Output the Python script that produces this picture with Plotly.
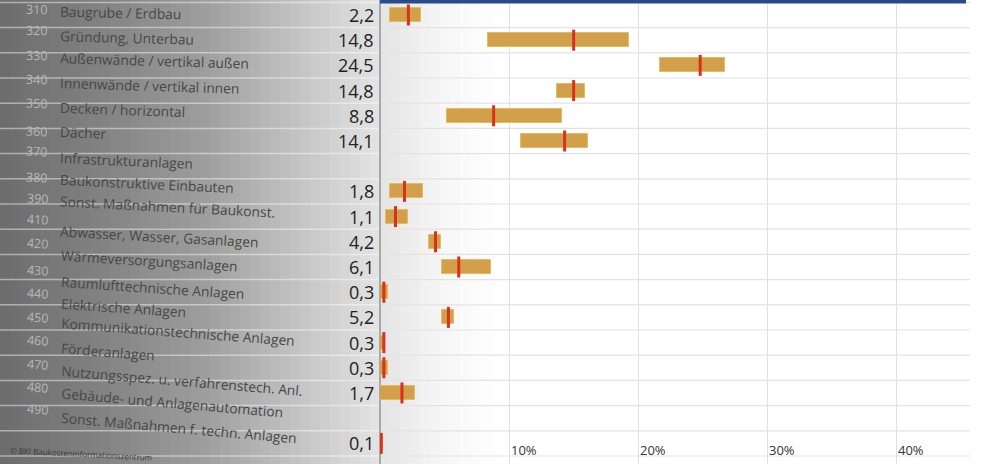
import plotly.graph_objects as go

codes = ["310", "320", "330", "340", "350", "360", "370", "380", "390",
         "410", "420", "430", "440", "450", "460", "470", "480", "490"]
names = ["Baugrube / Erdbau", "Gründung, Unterbau", "Außenwände / vertikal außen",
         "Innenwände / vertikal innen", "Decken / horizontal", "Dächer",
         "Infrastrukturanlagen", "Baukonstruktive Einbauten",
         "Sonst. Maßnahmen für Baukonst.", "Abwasser, Wasser, Gasanlagen",
         "Wärmeversorgungsanlagen", "Raumlufttechnische Anlagen",
         "Elektrische Anlagen", "Kommunikationstechnische Anlagen",
         "Förderanlagen", "Nutzungsspez. u. verfahrenstech. Anl.",
         "Gebäude- und Anlagenautomation", "Sonst. Maßnahmen f. techn. Anlagen"]
values = [2.2, 14.8, 24.5, 14.8, 8.8, 14.1, None, 1.8, 1.1,
          4.2, 6.1, 0.3, 5.2, 0.3, 0.3, 1.7, None, 0.1]
low = [0.8, 8.4, 21.7, 13.7, 5.2, 10.9, None, 0.8, 0.5,
       3.8, 4.8, 0.0, 4.8, 0.0, 0.0, 0.0, None, 0.0]
high = [3.2, 19.3, 26.7, 15.9, 14.1, 16.1, None, 3.3, 2.2,
        4.7, 8.6, 0.6, 5.7, 0.4, 0.6, 2.7, None, 0.2]
median = [2.2, 15.0, 24.8, 15.0, 8.8, 14.3, None, 1.9, 1.2,
          4.3, 6.1, 0.3, 5.3, 0.3, 0.3, 1.7, None, 0.1]
xticks = [10, 20, 30, 40]

W, H = 982, 464
ML, MR, MT, MB = 380, 12, 0, 0
PW = W - ML - MR
PH = H - MT - MB
ROW0, ROWH = 15, 25.2   # first row centre (px) and row pitch

def px_to_paper_x(p):
    return (p - ML) / PW

n = len(codes)
rows = list(range(n))
y_top = -ROW0 / ROWH
y_bot = (PH - ROW0) / ROWH

# scan-warp offsets (style): lift in px and tilt in degrees
label_lift = [3, 3, 5, 5, 6, 9, 6, 8, 10, 5, 7, 5, 10, 11, 16, 13, 16, 16]
code_lift = [6, 10, 10, 11, 12, 10, 15, 14, 18, 22, 24, 22, 24, 25, 27, 29, 31, 34]
label_tilt = [1.2, 1.4, 1.6, 1.8, 2.0, 2.3, 2.5, 2.7, 3.0, 3.2, 3.5, 3.8, 4.0, 4.3, 4.5, 4.7, 4.9, 5.0]

bar_y = [r for r, l in zip(rows, low) if l is not None]
bar_base = [l for l in low if l is not None]
bar_len = [h - l for l, h in zip(low, high) if l is not None]
med_y = [r for r, m in zip(rows, median) if m is not None]
med_x = [m for m in median if m is not None]

fig = go.Figure()
fig.add_trace(go.Bar(
    y=bar_y, x=bar_len, base=bar_base, orientation="h", width=0.56,
    marker=dict(color="#d2a04a", line=dict(color="#e2bb62", width=1)),
    hoverinfo="skip", showlegend=False))
fig.add_trace(go.Scatter(
    y=med_y, x=med_x, mode="markers",
    marker=dict(symbol="line-ns", size=15, line=dict(color="#d8321e", width=3)),
    hoverinfo="skip", showlegend=False))

shapes = []
# scan shading gradient (style only)
anchors = [(0, 108), (100, 130), (200, 156), (300, 196), (380, 228), (440, 246), (500, 255)]
def gray_at(p):
    for (p0, g0), (p1, g1) in zip(anchors[:-1], anchors[1:]):
        if p0 <= p <= p1:
            return g0 + (g1 - g0) * (p - p0) / (p1 - p0)
    return 255
step = 10
for p in range(0, 500, step):
    g = int(round(gray_at(p + step / 2)))
    shapes.append(dict(type="rect", xref="paper", yref="paper",
                       x0=px_to_paper_x(p), x1=px_to_paper_x(p + step + 1),
                       y0=-0.01, y1=1.01, line=dict(width=0),
                       fillcolor=f"rgb({g},{g},{g})", layer="below"))
# row separators
for i in range(n + 1):
    yv = i - 0.5
    shapes.append(dict(type="line", xref="paper", yref="y",
                       x0=px_to_paper_x(0), x1=0, y0=yv, y1=yv,
                       line=dict(color="rgba(255,255,255,0.45)", width=1.5), layer="below"))
    shapes.append(dict(type="line", xref="paper", yref="y",
                       x0=0, x1=1, y0=yv, y1=yv,
                       line=dict(color="#e3e3e3", width=1.2), layer="below"))
# blue top band
shapes.append(dict(type="rect", xref="paper", yref="paper",
                   x0=0, x1=px_to_paper_x(966), y0=1 - 3.5 / PH, y1=1.01,
                   line=dict(width=0), fillcolor="#2b4a8c"))

annotations = []
for i in rows:
    annotations.append(dict(
        xref="paper", yref="y", x=px_to_paper_x(58), y=i, yshift=label_lift[i],
        text=names[i], showarrow=False, xanchor="left", yanchor="middle",
        textangle=label_tilt[i], font=dict(family="Open Sans", size=13.8, color="#474747")))
    annotations.append(dict(
        xref="paper", yref="y", x=px_to_paper_x(24), y=i, yshift=code_lift[i],
        text=codes[i], showarrow=False, xanchor="left", yanchor="middle",
        textangle=label_tilt[i], font=dict(family="Open Sans", size=12.5, color="#b8b8b8")))
    if values[i] is not None:
        annotations.append(dict(
            xref="paper", yref="y", x=0, xshift=-4, y=i, yshift=0,
            text=f"{values[i]:.1f}".replace(".", ","), showarrow=False,
            xanchor="right", yanchor="middle",
            font=dict(family="Open Sans", size=18, color="#222222")))
for t in xticks:
    annotations.append(dict(
        xref="x", yref="y", x=t, y=n - 1, xshift=0, yshift=-7,
        text=f"{t}%", showarrow=False, xanchor="left", yanchor="middle",
        font=dict(family="Open Sans", size=13, color="#333333")))
annotations.append(dict(
    xref="paper", yref="y", x=px_to_paper_x(8), y=n - 1, yshift=-10,
    yanchor="middle", xanchor="left", text="© BKI Baukosteninformationszentrum",
    showarrow=False, textangle=3,
    font=dict(family="Open Sans", size=8, color="#3a3a3a")))

fig.update_layout(
    width=W, height=H,
    margin=dict(l=ML, r=MR, t=MT, b=MB),
    paper_bgcolor="white", plot_bgcolor="rgba(0,0,0,0)",
    xaxis=dict(range=[0, 45.7], dtick=10, tick0=0, showgrid=True,
               gridcolor="#e0e0e0", gridwidth=1.2, zeroline=True,
               zerolinecolor="#a8a8a8", zerolinewidth=1.5,
               showticklabels=False, fixedrange=True),
    yaxis=dict(range=[y_bot, y_top], showgrid=False, zeroline=False,
               showticklabels=False, fixedrange=True),
    shapes=shapes, annotations=annotations, bargap=0,
)

fig.write_html("out.html", config={"displayModeBar": False},
               post_script="document.body.style.margin='0';")
